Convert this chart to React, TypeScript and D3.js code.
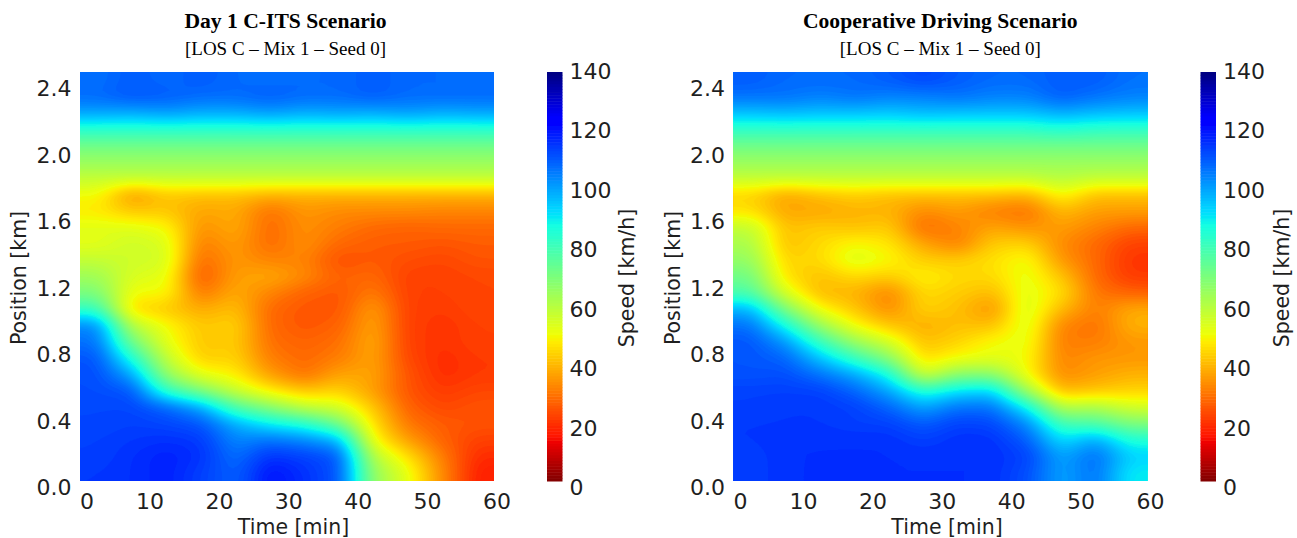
import React from "react";
import * as d3 from "d3";

// ---- data (km/h), rows run from the road start upward, columns are the 5-min bins ----
const timeBins = [2.5, 7.5, 12.5, 17.5, 22.5, 27.5, 32.5, 37.5, 42.5, 47.5, 52.5, 57.5];
const positionBins = [0.05, 0.15, 0.25, 0.35, 0.45, 0.55, 0.65, 0.75, 0.85, 0.95, 1.05, 1.15, 1.25, 1.35, 1.45, 1.55, 1.65, 1.75, 1.85, 1.95, 2.05, 2.15, 2.25, 2.35, 2.45];

const day1Speeds = [
  [115, 116, 118, 114, 109, 120, 116, 111, 66, 52, 33, 17],
  [114, 116, 118, 116, 107, 116, 114, 111, 60, 46, 31, 19],
  [114, 115, 116, 115, 104, 107, 104, 98, 50, 36, 27, 22],
  [113, 114, 113, 111, 99, 90, 85, 72, 46, 30, 26, 25],
  [113, 113, 109, 100, 78, 68, 58, 55, 42, 27, 23, 25],
  [112, 111, 83, 70, 57, 48, 42, 44, 36, 25, 21, 23],
  [112, 100, 66, 52, 48, 36, 29, 37, 37, 25, 19, 21],
  [111, 86, 58, 43, 44, 31, 28, 31, 37, 23, 19, 21],
  [107, 72, 52, 42, 43, 29, 27, 29, 38, 22, 20, 22],
  [104, 60, 50, 42, 44, 28, 25, 27, 37, 22, 20, 22],
  [82, 45, 42, 38, 41, 28, 25, 25, 36, 22, 21, 23],
  [70, 50, 50, 30, 38, 32, 27, 25, 31, 22, 22, 23],
  [64, 54, 52, 25, 36, 38, 33, 27, 28, 22, 22, 23],
  [58, 56, 55, 28, 35, 32, 32, 24, 26, 24, 23, 25],
  [52, 56, 54, 31, 36, 28, 34, 28, 26, 26, 25, 26],
  [53, 53, 50, 34, 38, 28, 34, 31, 28, 27, 28, 28],
  [47, 42, 42, 37, 38, 29, 35, 33, 33, 33, 32, 32],
  [50, 35, 42, 41, 41, 39, 39, 39, 39, 39, 39, 39],
  [58, 58, 58, 58, 58, 58, 58, 58, 58, 58, 58, 58],
  [65, 65, 65, 65, 65, 65, 65, 65, 65, 65, 65, 65],
  [72, 72, 72, 72, 72, 72, 72, 72, 72, 72, 72, 72],
  [84, 84, 84, 84, 84, 84, 84, 84, 84, 84, 84, 84],
  [100, 99, 101, 99, 99, 101, 99, 100, 99, 101, 99, 100],
  [108, 111, 110, 108, 108, 110, 108, 108, 110, 108, 108, 108],
  [107, 110, 108, 110, 108, 107, 108, 108, 110, 108, 108, 108],
];

const cooperativeSpeeds = [
  [114, 116, 116, 117, 116, 116, 116, 116, 112, 100, 107, 90],
  [114, 116, 116, 116, 116, 116, 116, 116, 114, 100, 108, 94],
  [115, 116, 116, 116, 116, 114, 116, 116, 110, 92, 100, 86],
  [115, 115, 115, 114, 114, 110, 114, 113, 104, 80, 78, 70],
  [114, 115, 115, 114, 109, 100, 107, 107, 90, 60, 62, 55],
  [114, 114, 114, 109, 100, 85, 92, 94, 64, 40, 42, 44],
  [111, 112, 107, 100, 88, 55, 68, 68, 50, 33, 36, 39],
  [111, 109, 96, 82, 68, 45, 50, 52, 50, 32, 35, 35],
  [111, 102, 82, 65, 55, 41, 44, 50, 52, 31, 31, 35],
  [107, 88, 65, 50, 42, 38, 41, 41, 54, 32, 29, 39],
  [98, 70, 50, 42, 33, 44, 41, 34, 55, 40, 31, 38],
  [78, 54, 40, 39, 32, 45, 43, 40, 53, 46, 30, 27],
  [72, 46, 41, 45, 43, 49, 45, 45, 52, 42, 28, 21],
  [66, 44, 45, 54, 50, 43, 43, 46, 51, 35, 28, 20],
  [62, 41, 45, 50, 47, 37, 31, 43, 44, 33, 28, 22],
  [58, 41, 43, 41, 43, 28, 32, 37, 34, 36, 32, 28],
  [46, 37, 37, 39, 39, 33, 36, 31, 29, 40, 36, 36],
  [44, 37, 41, 43, 41, 41, 41, 41, 39, 50, 41, 41],
  [58, 58, 58, 58, 58, 58, 58, 58, 58, 60, 58, 58],
  [65, 65, 65, 65, 65, 65, 65, 65, 65, 65, 65, 65],
  [72, 72, 72, 72, 72, 72, 72, 72, 72, 72, 72, 72],
  [83, 83, 83, 83, 83, 83, 83, 83, 83, 85, 83, 83],
  [96, 97, 96, 96, 95, 97, 96, 96, 96, 99, 97, 96],
  [107, 107, 105, 107, 105, 105, 107, 105, 105, 110, 107, 105],
  [110, 108, 108, 108, 110, 113, 110, 108, 108, 110, 110, 107],
];

const timeTicks = [0, 10, 20, 30, 40, 50, 60];
const positionTicks = [0.0, 0.4, 0.8, 1.2, 1.6, 2.0, 2.4];
const speedTicks = [0, 20, 40, 60, 80, 100, 120, 140];
const panelTitles = ["Day 1 C-ITS Scenario", "Cooperative Driving Scenario"];
const panelSubtitle = "[LOS C \u2013 Mix 1 \u2013 Seed 0]";

// ---- matplotlib jet, reversed over the speed range ----
const chan = (d: number[], r: number[]) => d3.scaleLinear(d, r).clamp(true);
const jr = chan([0, 0.35, 0.66, 0.89, 1], [0, 0, 1, 1, 0.5]);
const jg = chan([0, 0.125, 0.375, 0.64, 0.91, 1], [0, 0, 1, 1, 0, 0]);
const jb = chan([0, 0.11, 0.34, 0.65, 1], [0.5, 1, 1, 0, 0]);
const speedColor = (v: number) => {
  const t = 1 - v / 140;
  return d3.rgb(jr(t) * 255, jg(t) * 255, jb(t) * 255).formatHex();
};

// imshow-like smooth resampling of the grid, then filled iso-bands
const KX = 8;
const KY = 4;
const PAD = 4;
function field(matrix: number[][]) {
  const rows = positionBins.length;
  const cols = timeBins.length;
  const w = cols * KX + 2 * PAD;
  const h = rows * KY + 2 * PAD;
  const data = new Float64Array(w * h);
  for (let j = 0; j < h; j++) {
    const fy = Math.max(0, Math.min(rows - 1.001, (j - PAD + 0.5) / KY - 0.5));
    const y0 = Math.floor(fy);
    for (let i = 0; i < w; i++) {
      const fx = Math.max(0, Math.min(cols - 1.001, (i - PAD + 0.5) / KX - 0.5));
      const x0 = Math.floor(fx);
      const a = d3.interpolateNumber(matrix[y0][x0], matrix[y0][x0 + 1])(fx - x0);
      const b = d3.interpolateNumber(matrix[y0 + 1][x0], matrix[y0 + 1][x0 + 1])(fx - x0);
      data[j * w + i] = a + (b - a) * (fy - y0);
    }
  }
  d3.blur2({ data, width: w, height: h }, 1.4, 0.8);
  return { data, w, h };
}

const sans = "'DejaVu Sans', sans-serif";
const serif = "'Liberation Serif', serif";
const ink = "#1f1f1f";

function Panel({ matrix, dx, title, titleX, index }: { matrix: number[][]; dx: number; title: string; titleX: number; index: number }) {
  const x = d3.scaleLinear([0, 60], [80 + dx, 494 + dx]);
  const y = d3.scaleLinear([0, 2.5], [481, 72]);
  const c = d3.scaleLinear([0, 140], [481, 72]);
  const xLabel = d3.scaleLinear([0, 60], [80.6 + dx, 497 + dx]);
  const yLabel = d3.scaleLinear([0, 2.4], [487, 88]);
  const cLabel = d3.scaleLinear([0, 140], [487, 71]);
  const { data, w, h } = field(matrix);
  const gx = d3.scaleLinear([PAD, w - PAD], x.range());
  const gy = d3.scaleLinear([PAD, h - PAD], y.range());
  const path = d3.geoPath(
    d3.geoTransform({
      point(px: number, py: number) {
        (this as any).stream.point(gx(px), gy(py));
      },
    })
  );
  const bands = d3.contours().size([w, h]).smooth(true).thresholds(d3.range(0, 140, 1))(Array.from(data));
  const barL = 547 + dx;
  const barW = 15.5;
  const clipId = `plot-clip-${index}`;
  return (
    <g>
      <clipPath id={clipId}>
        <rect x={x(0)} y={y(2.5)} width={x(60) - x(0)} height={y(0) - y(2.5)} />
      </clipPath>
      <text x={titleX - 0.5} y={27.5} textAnchor="middle" fontFamily={serif} fontWeight="bold" fontSize={21.6}>{title}</text>
      <text x={titleX - 0.5} y={55} textAnchor="middle" fontFamily={serif} fontSize={19}>{panelSubtitle}</text>
      <g filter="url(#soft)">
        <g clipPath={`url(#${clipId})`}>
          {bands.map((b) => (
            <path key={b.value} d={path(b) || ""} fill={speedColor(b.value + 0.5)} />
          ))}
        </g>
      </g>
      {timeTicks.map((t) => (
        <text key={t} x={xLabel(t) + (t === 0 ? 6.5 : 0)} y={509} textAnchor="middle" fontFamily={sans} fontSize={22} fill={ink}>{t}</text>
      ))}
      {positionTicks.map((p) => (
        <text key={p} x={71.5 + dx} y={yLabel(p) + 8} textAnchor="end" fontFamily={sans} fontSize={22} fill={ink}>{p.toFixed(1)}</text>
      ))}
      <text x={293.5 + dx} y={534} textAnchor="middle" fontFamily={sans} fontSize={20.5} fill={ink}>Time [min]</text>
      <text transform={`translate(${26 + dx},${278}) rotate(-90)`} textAnchor="middle" fontFamily={sans} fontSize={20.5} fill={ink}>Position [km]</text>
      <g filter="url(#soft)">
        {d3.range(0, 140, 1).map((v) => (
          <rect key={v} x={barL} y={c(v + 1)} width={barW} height={c(v) - c(v + 1) + 0.5} fill={speedColor(v + 0.5)} />
        ))}
      </g>
      {speedTicks.map((s) => (
        <text key={s} x={569.5 + dx} y={cLabel(s) + 8} fontFamily={sans} fontSize={22} fill={ink}>{s}</text>
      ))}
      <text transform={`translate(${634 + dx + (index ? 1 : 0)},${278}) rotate(-90)`} textAnchor="middle" fontFamily={sans} fontSize={20.5} fill={ink}>Speed [km/h]</text>
    </g>
  );
}

export default function App() {
  return (
    <svg width={1297} height={538} viewBox="0 0 1297 538" style={{ position: "absolute", left: 0, top: 0, display: "block", background: "#fff" }}>
      <defs>
        <filter id="soft" x="-5%" y="-5%" width="110%" height="110%">
          <feGaussianBlur stdDeviation="0.5" />
        </filter>
      </defs>
      <Panel matrix={day1Speeds} dx={0} title={panelTitles[0]} titleX={286} index={0} />
      <Panel matrix={cooperativeSpeeds} dx={653.5} title={panelTitles[1]} titleX={940.8} index={1} />
    </svg>
  );
}
